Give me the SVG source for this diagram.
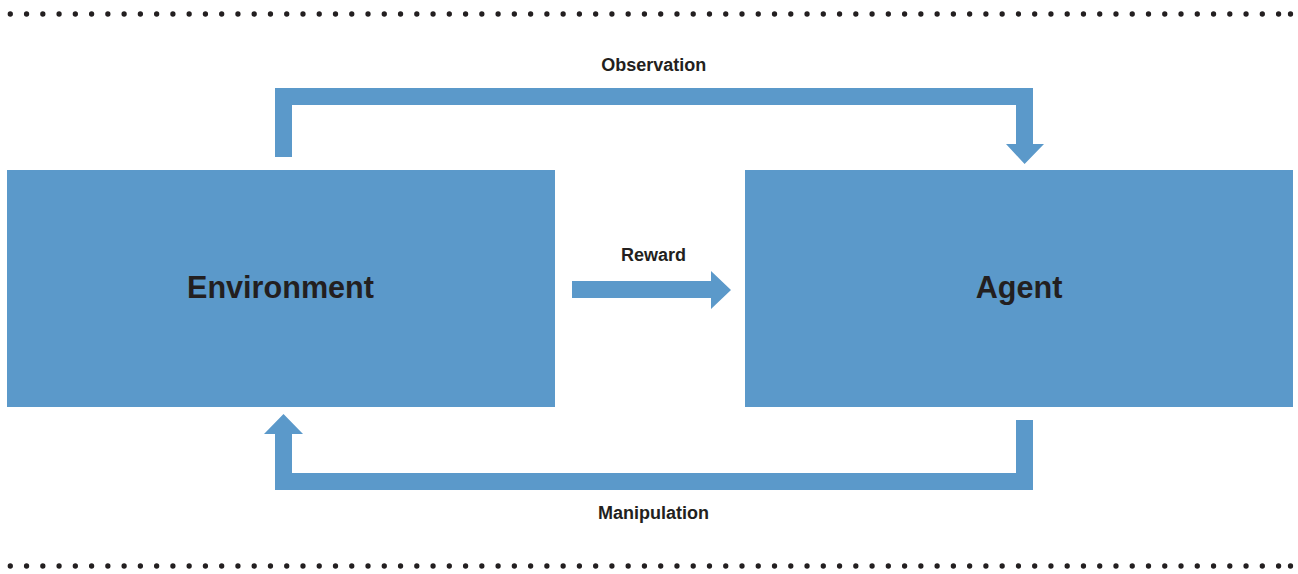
<svg xmlns="http://www.w3.org/2000/svg" width="1298" height="574" viewBox="0 0 1298 574">
  <style>
    .box { fill: #5B99CA; }
    .conn { fill: #5B99CA; }
    .dots { stroke: #231F20; stroke-width: 5.3; stroke-linecap: round; stroke-dasharray: 0 16.26; fill: none; }
    .dot { fill: #231F20; }
    .lbl { font-family: "Liberation Sans", Arial, sans-serif; font-weight: bold; font-size: 18px; fill: #231F20; text-anchor: middle; }
    .title { font-family: "Liberation Sans", Arial, sans-serif; font-weight: bold; font-size: 30.6px; fill: #231F20; text-anchor: middle; }
  </style>
  <rect width="1298" height="574" fill="#FFFFFF"/>
  <g id="borders">
    <line class="dots" x1="10.3" y1="14" x2="1280" y2="14"/>
    <circle class="dot" cx="1290.5" cy="14" r="2.65"/>
    <line class="dots" x1="10.3" y1="566" x2="1280" y2="566"/>
    <circle class="dot" cx="1290.5" cy="566" r="2.65"/>
  </g>
  <g id="environment">
    <rect class="box" x="7" y="170" width="548" height="237"/>
    <text class="title" x="280.5" y="297.7">Environment</text>
  </g>
  <g id="agent">
    <rect class="box" x="745" y="170" width="548" height="237"/>
    <text class="title" x="1019" y="297.7">Agent</text>
  </g>
  <g id="connectors">
    <polygon class="conn" points="275,157 275,88 1033,88 1033,144 1044,144 1024.6,164 1006,144 1016,144 1016,105 292,105 292,157"/>
    <text class="lbl" x="653.7" y="70.5">Observation</text>
    <polygon class="conn" points="572,281 711,281 711,271 731,290 711,309 711,298 572,298"/>
    <text class="lbl" x="653.5" y="260.7">Reward</text>
    <polygon class="conn" points="1016,420 1033,420 1033,490 275,490 275,434 264,434 283.5,414 303,434 292,434 292,473 1016,473"/>
    <text class="lbl" x="653.5" y="519">Manipulation</text>
  </g>
</svg>
